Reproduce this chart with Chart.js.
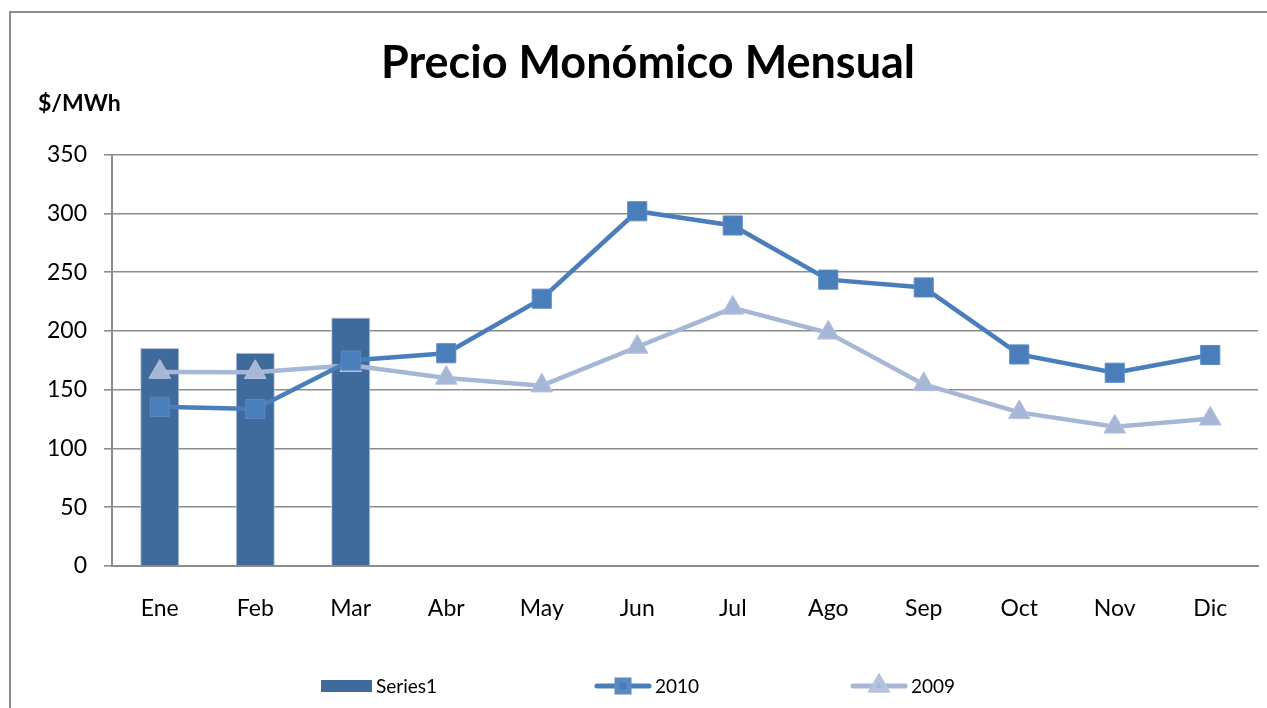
<!DOCTYPE html>
<html>
<head>
<meta charset="utf-8">
<script src="https://cdn.jsdelivr.net/npm/chart.js@4.4.1/dist/chart.umd.min.js"></script>
<style>
  html, body { margin: 0; padding: 0; background: #fff; }
  #wrap { position: relative; width: 1267px; height: 708px; overflow: hidden; }
  #frame { position: absolute; left: 9px; top: 11px; width: 1300px; height: 760px;
           border-left: 2px solid #8c8c8c; border-top: 2px solid #8c8c8c; }
  #myChart { position: absolute; left: 0; top: 0; }
</style>
</head>
<body>
<div id="wrap">
  <div id="frame"></div>
  <canvas id="myChart" width="1267" height="708"></canvas>
</div>
<script>
const meses = ['Ene', 'Feb', 'Mar', 'Abr', 'May', 'Jun', 'Jul', 'Ago', 'Sep', 'Oct', 'Nov', 'Dic'];
const series1 = [185.5, 181.5, 211.5, null, null, null, null, null, null, null, null, null];
const precio2010 = [135.4, 133.6, 174.8, 181, 227.4, 301.8, 289.7, 243.6, 237, 180, 164.4, 179.5];
const precio2009 = [165, 164.8, 170.8, 160, 153.4, 186.3, 219.6, 198.4, 154.5, 130.7, 118.4, 125.2];
const yTicks = [0, 50, 100, 150, 200, 250, 300, 350];

const FONT = 'Lato, "Open Sans", sans-serif';
const gridGray = '#8c8c8c';

// legend in the Excel style: swatch + text, spread along the bottom
const bottomLegend = {
  id: 'bottomLegend',
  afterDraw(chart) {
    const ctx = chart.ctx;
    const y = 686;
    const items = [
      { x: 321, kind: 'bar', ds: chart.data.datasets[0] },
      { x: 595, kind: 'rect', ds: chart.data.datasets[1] },
      { x: 851, kind: 'triangle', ds: chart.data.datasets[2] }
    ];
    ctx.save();
    items.forEach(it => {
      if (it.kind === 'bar') {
        ctx.fillStyle = it.ds.backgroundColor;
        ctx.fillRect(it.x, y - 6, 51, 12);
      } else {
        ctx.strokeStyle = it.ds.borderColor;
        ctx.lineWidth = 5;
        ctx.lineCap = 'round';
        ctx.beginPath();
        ctx.moveTo(it.x + 2, y);
        ctx.lineTo(it.x + 54, y);
        ctx.stroke();
        ctx.fillStyle = it.ds.pointBackgroundColor;
        ctx.strokeStyle = it.ds.pointBorderColor;
        Chart.helpers.drawPoint(ctx, {
          pointStyle: it.kind, radius: 8.5, borderWidth: 1, rotation: 0
        }, it.x + 28, y);
      }
      ctx.fillStyle = '#000';
      ctx.font = '19px ' + FONT;
      ctx.textBaseline = 'middle';
      ctx.textAlign = 'left';
      ctx.fillText(it.ds.label, it.x + (it.kind === 'bar' ? 55 : 60), y + 1);
    });
    ctx.restore();
  }
};

const ctx = document.getElementById('myChart');

new Chart(ctx, {
  data: {
    labels: meses,
    datasets: [
      {
        type: 'bar',
        label: 'Series1',
        data: series1,
        backgroundColor: '#3f6a9c',
        borderColor: '#b9c8de',
        borderWidth: 1,
        barPercentage: 0.41,
        categoryPercentage: 1,
        order: 3
      },
      {
        type: 'line',
        label: '2010',
        data: precio2010,
        borderColor: '#4a7ebb',
        borderWidth: 4.5,
        pointStyle: 'rect',
        pointRadius: 13.5,
        pointBackgroundColor: '#4a7ebb',
        pointBorderColor: '#5a8ac2',
        pointBorderWidth: 1,
        tension: 0,
        order: 1
      },
      {
        type: 'line',
        label: '2009',
        data: precio2009,
        borderColor: '#a6b6d6',
        borderWidth: 4.5,
        pointStyle: 'triangle',
        pointRadius: 12.5,
        pointBackgroundColor: '#a6b6d6',
        pointBorderColor: '#b4c2de',
        pointBorderWidth: 1,
        tension: 0,
        order: 2
      }
    ]
  },
  options: {
    responsive: false,
    animation: false,
    layout: { autoPadding: false, padding: { left: 38, right: 9, top: 36, bottom: 60 } },
    plugins: {
      legend: { display: false },
      tooltip: { enabled: false },
      title: {
        display: true,
        text: 'Precio Monómico Mensual',
        color: '#000',
        font: { family: FONT, size: 45, weight: 'bold' },
        padding: { top: 0, bottom: 0 }
      },
      subtitle: {
        display: true,
        text: '$/MWh',
        align: 'start',
        color: '#000',
        font: { family: FONT, size: 23, weight: 'bold' },
        padding: { top: 0, bottom: 37 }
      }
    },
    scales: {
      x: {
        grid: { display: false, drawTicks: false },
        border: { display: true, color: gridGray, width: 2 },
        ticks: {
          color: '#000',
          font: { family: FONT, size: 23 },
          padding: 29,
          maxRotation: 0
        },
        afterFit(scale) { scale.height = 82; }
      },
      y: {
        min: 0,
        max: 350,
        afterBuildTicks(scale) { scale.ticks = yTicks.map(v => ({ value: v })); },
        grid: { color: gridGray, lineWidth: 1.6, tickLength: 8 },
        border: { display: true, color: gridGray, width: 2 },
        ticks: {
          color: '#000',
          font: { family: FONT, size: 23 },
          padding: 17
        },
        afterFit(scale) { scale.width = 74; }
      }
    }
  },
  plugins: [bottomLegend]
});
</script>
</body>
</html>
